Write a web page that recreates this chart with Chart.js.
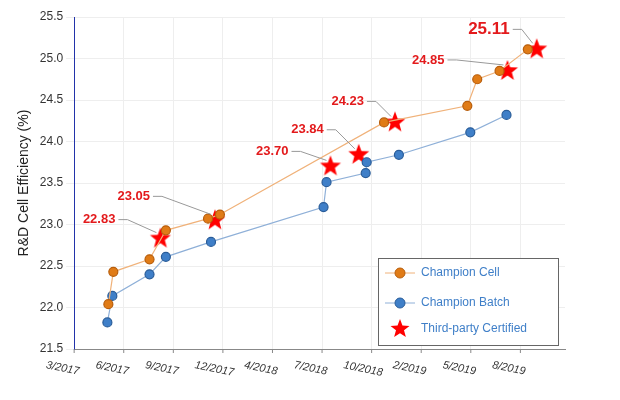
<!DOCTYPE html><html><head><script src="https://cdn.jsdelivr.net/npm/chart.js@4"></script>
<style>body{margin:0;background:#fff}#w{width:620px;height:400px}</style></head><body><div id="w"><canvas id="c"></canvas></div>
<script>
const tickLabels=["3/2017","6/2017","9/2017","12/2017","4/2018","7/2018","10/2018","2/2019","5/2019","8/2019"];
const cellX=[0.69,0.79,1.52,1.85,2.70,2.94,6.25,7.93,8.13,8.58,9.15];
const cellY=[22.04,22.43,22.58,22.93,23.07,23.12,24.23,24.43,24.75,24.85,25.11];
const batchX=[0.67,0.77,1.52,1.85,2.76,5.03,5.09,5.88,5.90,6.55,7.99,8.72];
const batchY=[21.82,22.14,22.40,22.61,22.79,23.21,23.51,23.62,23.75,23.84,24.11,24.32];
const certX=[1.74,2.84,5.17,5.74,6.47,8.74,9.33];
const certY=[22.83,23.05,23.70,23.84,24.23,24.85,25.11];
const certLabels=["22.83","23.05","23.70","23.84","24.23","24.85","25.11"];
const off=[[-45,-19],[-65,-24],[-42,-15],[-35,-25],[-31,-21],[-63,-11],[-27,-20]];
const pts=(xs,ys)=>xs.map((x,i)=>({x,y:ys[i]}));
function starImg(r){const cv=document.createElement('canvas');cv.width=cv.height=2*r+2;const g=cv.getContext('2d');g.translate(r+1,r+1);g.beginPath();
for(let i=0;i<10;i++){const a=-Math.PI/2+i*Math.PI/5,rr=i%2?r*0.42:r;g.lineTo(rr*Math.cos(a),rr*Math.sin(a));}g.closePath();g.fillStyle='#ff0000';g.fill();return cv;}
const star=starImg(11),starS=starImg(10);
function ball(g,x,y,col,edge){g.beginPath();g.arc(x,y,5,0,7);g.fillStyle=col;g.fill();g.strokeStyle=edge;g.lineWidth=1;g.stroke();}
const labelPlugin={id:'lbl',afterDatasetsDraw(ch){const c=ch.ctx;const m=ch.getDatasetMeta(2);
m.data.forEach((p,i)=>{const big=i===6;c.save();c.font=(big?'bold 17px':'bold 13px')+' "Liberation Sans",Arial';c.fillStyle='#e31a1c';c.textAlign='right';c.textBaseline='middle';
const lx=p.x+off[i][0],ly=p.y+off[i][1];c.fillText(certLabels[i],lx,ly);
c.strokeStyle='#999';c.lineWidth=1;c.beginPath();c.moveTo(lx+3,ly);c.lineTo(lx+12,ly);c.lineTo(p.x-4,p.y-6);c.stroke();c.restore();});
// x tick labels rotated clockwise
const xs=ch.scales.x,yb=ch.chartArea.bottom;c.save();c.font='italic 11px "Liberation Sans",Arial';c.fillStyle='#333';
tickLabels.forEach((t,i)=>{const x=xs.getPixelForValue(i);c.save();c.translate(x-28,yb+16);c.rotate(0.2);c.textAlign='left';c.textBaseline='middle';c.fillText(t,0,0);c.restore();
c.strokeStyle='#888';c.beginPath();c.moveTo(x,yb);c.lineTo(x,yb+4);c.stroke();});
// legend
c.fillStyle='#fff';c.fillRect(378,258,180,87);c.strokeStyle='#666';c.lineWidth=1;c.strokeRect(378.5,258.5,180,87);
c.font='12px "Liberation Sans",Arial';c.fillStyle='#333';c.textBaseline='middle';
const lg=[['Champion Cell',273],['Champion Batch',303],['Third-party Certified',329]];
c.strokeStyle='#f0b27a';c.beginPath();c.moveTo(385,273);c.lineTo(415,273);c.stroke();ball(c,400,273,'#e07b16','#b85e0c');
c.strokeStyle='#8fb0d8';c.beginPath();c.moveTo(385,303);c.lineTo(415,303);c.stroke();ball(c,400,303,'#3f7fc8','#2a5d99');
c.drawImage(starS,389,318);
lg.forEach(([t,y])=>c.fillText(t,421,y));c.restore();}};
new Chart(document.getElementById('c'),{type:'scatter',
data:{datasets:[
{label:'Champion Cell',data:pts(cellX,cellY),showLine:true,borderColor:'#f0b27a',borderWidth:1.2,backgroundColor:'#e07b16',pointBorderColor:'#b85e0c',pointRadius:4.5,pointHoverRadius:4.5},
{label:'Champion Batch',data:pts(batchX,batchY),showLine:true,borderColor:'#8fb0d8',borderWidth:1.2,backgroundColor:'#3f7fc8',pointBorderColor:'#2a5d99',pointRadius:4.5,pointHoverRadius:4.5},
{label:'Third-party Certified',data:pts(certX,certY),showLine:false,pointStyle:star,pointRadius:11,pointHoverRadius:11}
]},
options:{animation:false,responsive:true,maintainAspectRatio:false,
layout:{padding:{top:17,right:55,bottom:0,left:12}},
plugins:{tooltip:{enabled:false},legend:{display:false}},
scales:{
x:{type:'linear',min:0,max:9.9,afterBuildTicks(s){s.ticks=tickLabels.map((_,i)=>({value:i}));},
ticks:{callback:()=> '',font:{size:11}},afterFit(s){s.height=51;},grid:{color:'#eee',drawTicks:false},border:{color:'#888'}},
y:{min:21.5,max:25.5,ticks:{stepSize:0.5,callback:v=>v.toFixed(1),font:{size:12},color:'#333'},grid:{color:'#eee'},border:{color:'#2233aa'},
title:{display:true,text:'R&D Cell Efficiency (%)',font:{size:14},color:'#222'}}}},
plugins:[labelPlugin]});
</script></body></html>
